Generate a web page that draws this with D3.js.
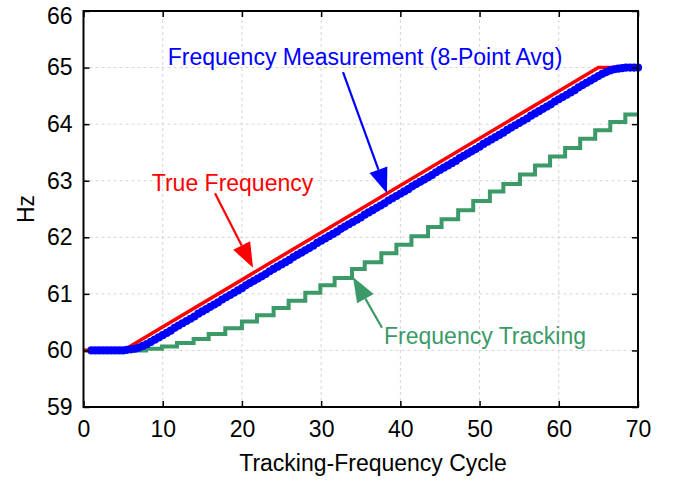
<!DOCTYPE html>
<html><head><meta charset="utf-8">
<script src="https://cdn.jsdelivr.net/npm/d3@7"></script>
<style>body{margin:0;background:#fff}</style>
</head><body><svg id="c" width="676" height="480"></svg>
<script>
const xTicks=[0,10,20,30,40,50,60,70];
const yTicks=[59,60,61,62,63,64,65,66];

const trueCycles=[0,5,65,70];
const trueHz=[60,60,65,65];

const trackCycles=[0,7.9,9.9,11.8,13.9,15.8,17.9,20.0,21.9,24.0,25.9,28.0,29.9,31.7,33.9,35.5,37.6,39.5,41.4,43.5,45.2,47.3,49.2,51.3,53.0,55.1,57.0,58.9,60.8,62.7,64.6,66.5,68.4,70];
const trackHz=[60,60.03,60.07,60.13,60.20,60.29,60.39,60.51,60.62,60.75,60.88,61.02,61.15,61.28,61.44,61.56,61.72,61.87,62.02,62.18,62.32,62.48,62.64,62.81,62.94,63.11,63.27,63.43,63.58,63.74,63.89,64.04,64.17,64.17];

const measCycles=[1,1.5,2,2.5,3,3.5,4,4.5,5,5.5,6,6.5,7,7.5,8,8.5,9,9.5,10,10.5,11,11.5,12,12.5,13,13.5,14,14.5,15,15.5,16,16.5,17,17.5,18,18.5,19,19.5,20,20.5,21,21.5,22,22.5,23,23.5,24,24.5,25,25.5,26,26.5,27,27.5,28,28.5,29,29.5,30,30.5,31,31.5,32,32.5,33,33.5,34,34.5,35,35.5,36,36.5,37,37.5,38,38.5,39,39.5,40,40.5,41,41.5,42,42.5,43,43.5,44,44.5,45,45.5,46,46.5,47,47.5,48,48.5,49,49.5,50,50.5,51,51.5,52,52.5,53,53.5,54,54.5,55,55.5,56,56.5,57,57.5,58,58.5,59,59.5,60,60.5,61,61.5,62,62.5,63,63.5,64,64.5,65,65.5,66,66.5,67,67.5,68,68.5,69,69.5,70];
const measHz=[60,60,60,60,60,60,60,60,60,60.01,60.02,60.03,60.05,60.08,60.11,60.15,
60.19,60.23,60.27,60.31,60.35,60.40,60.44,60.48,60.52,60.56,60.60,60.65,60.69,60.73,60.77,60.81,60.85,60.90,60.94,60.98,
61.02,61.06,61.10,61.15,61.19,61.23,61.27,61.31,61.35,61.40,61.44,61.48,61.52,61.56,61.60,61.65,61.69,61.73,61.77,61.81,61.85,61.90,61.94,61.98,
62.02,62.06,62.10,62.15,62.19,62.23,62.27,62.31,62.35,62.40,62.44,62.48,62.52,62.56,62.60,62.65,62.69,62.73,62.77,62.81,62.85,62.90,62.94,62.98,
63.02,63.06,63.10,63.15,63.19,63.23,63.27,63.31,63.35,63.40,63.44,63.48,63.52,63.56,63.60,63.65,63.69,63.73,63.77,63.81,63.85,63.90,63.94,63.98,
64.02,64.06,64.10,64.15,64.19,64.23,64.27,64.31,64.35,64.40,64.44,64.48,64.52,64.56,64.60,64.65,64.69,64.73,64.77,64.81,64.85,
64.89,64.92,64.95,64.97,64.98,64.99,65,65,65,65];

const annoText=["Frequency Measurement (8-Point Avg)","True Frequency","Frequency Tracking"];
const annoColor=["#0000ff","#ff0000","#3b9a68"];
const annoTextPos=[[35.54,65.05],[18.81,62.82],[50.69,60.11]];
const annoFrom=[[32.76,64.92],[16.60,62.78],[37.68,60.40]];
const annoTo=[[38.31,62.78],[21.40,61.46],[34.02,61.30]];

const svg=d3.select("#c");
const x=d3.scaleLinear().domain([0,70]).range([83.5,638]);
const y=d3.scaleLinear().domain([59,66]).range([407,11]);
const FONT="'Liberation Sans', Arial, sans-serif";
const FS="23px";

// grid
const grid=svg.append("g");
grid.selectAll("line.gx").data(xTicks.slice(1,-1)).join("line")
  .attr("x1",d=>x(d)).attr("x2",d=>x(d)).attr("y1",y(59)).attr("y2",y(66))
  .attr("stroke","#d4d4d4").attr("stroke-width",1).attr("stroke-dasharray","3,3");
grid.selectAll("line.gy").data(yTicks.slice(1,-1)).join("line")
  .attr("y1",d=>y(d)).attr("y2",d=>y(d)).attr("x1",x(0)).attr("x2",x(70))
  .attr("stroke","#d4d4d4").attr("stroke-width",1).attr("stroke-dasharray","3,3");

// series
const trackData=trackCycles.map((c,i)=>[c,trackHz[i]]);
svg.append("path").datum(trackData)
  .attr("d",d3.line().x(d=>x(d[0])).y(d=>y(d[1])).curve(d3.curveStepAfter))
  .attr("fill","none").attr("stroke","#3b9a68").attr("stroke-width",4);

const trueData=trueCycles.map((c,i)=>[c,trueHz[i]]);
svg.append("path").datum(trueData)
  .attr("d",d3.line().x(d=>x(d[0])).y(d=>y(d[1])))
  .attr("fill","none").attr("stroke","#ff0000").attr("stroke-width",3.5);

const measData=measCycles.map((c,i)=>[c,measHz[i]]);
svg.append("path").datum(measData)
  .attr("d",d3.line().x(d=>x(d[0])).y(d=>y(d[1])))
  .attr("fill","none").attr("stroke","#0000ff").attr("stroke-width",2);
svg.append("g").selectAll("circle").data(measData).join("circle")
  .attr("cx",d=>x(d[0])).attr("cy",d=>y(d[1])).attr("r",4.1).attr("fill","#0000ff");

// axes (box with inward ticks)
const ax=svg.append("g");
ax.append("rect").attr("x",x(0)).attr("y",y(66)).attr("width",x(70)-x(0)).attr("height",y(59)-y(66))
  .attr("fill","none").attr("stroke","#000").attr("stroke-width",2);
const xa=d3.axisBottom(x).tickValues(xTicks).tickSize(-6).tickPadding(14).tickFormat(d3.format("d"));
const ya=d3.axisLeft(y).tickValues(yTicks).tickSize(-6).tickPadding(11).tickFormat(d3.format("d"));
const gx=ax.append("g").attr("transform",`translate(0,${y(59)})`).call(xa);
const gy=ax.append("g").attr("transform",`translate(${x(0)},0)`).call(ya);
const gx2=ax.append("g").attr("transform",`translate(0,${y(66)})`).call(d3.axisTop(x).tickValues(xTicks).tickSize(-6).tickFormat(""));
const gy2=ax.append("g").attr("transform",`translate(${x(70)},0)`).call(d3.axisRight(y).tickValues(yTicks).tickSize(-6).tickFormat(""));
[gx,gy,gx2,gy2].forEach(g=>{
  g.select(".domain").remove();
  g.selectAll(".tick line").attr("stroke","#000").attr("stroke-width",1.5);
  g.selectAll("text").attr("font-family",FONT).attr("font-size",FS).attr("fill","#000");
});
// top label sits slightly lower so it stays inside the page
gy.selectAll(".tick").filter(d=>d===66).select("text").attr("dy","0.55em");

svg.append("text").attr("x",373).attr("y",471).attr("text-anchor","middle")
  .attr("font-family",FONT).attr("font-size",FS).text("Tracking-Frequency Cycle");
svg.append("text").attr("transform",`translate(34,${(y(59)+y(66))/2}) rotate(-90)`).attr("text-anchor","middle")
  .attr("font-family",FONT).attr("font-size",FS).text("Hz");

// annotations
annoText.forEach((t,i)=>{
  const [x0,y0]=[x(annoFrom[i][0]),y(annoFrom[i][1])];
  const [x1,y1]=[x(annoTo[i][0]),y(annoTo[i][1])];
  const ang=Math.atan2(y1-y0,x1-x0), L=25, W=9.5;
  const bx=x1-L*Math.cos(ang), by=y1-L*Math.sin(ang);
  svg.append("line").attr("x1",x0).attr("y1",y0).attr("x2",bx).attr("y2",by)
    .attr("stroke",annoColor[i]).attr("stroke-width",2.2);
  const pts=[[x1,y1],[bx+W*Math.sin(ang),by-W*Math.cos(ang)],[bx-W*Math.sin(ang),by+W*Math.cos(ang)]];
  svg.append("polygon").attr("points",pts.map(p=>p.join(",")).join(" ")).attr("fill",annoColor[i]);
  svg.append("text").attr("x",x(annoTextPos[i][0])).attr("y",y(annoTextPos[i][1])).attr("text-anchor","middle")
    .attr("font-family",FONT).attr("font-size",FS).attr("fill",annoColor[i]).text(t);
});
</script></body></html>
